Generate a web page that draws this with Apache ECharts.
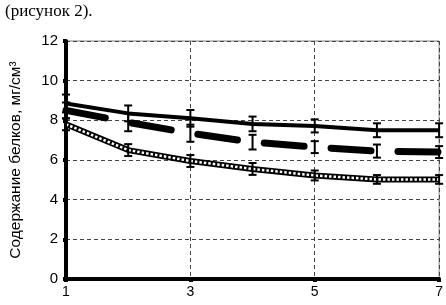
<!DOCTYPE html>
<html><head><meta charset="utf-8">
<script src="https://cdn.jsdelivr.net/npm/echarts@6/dist/echarts.min.js"></script>
<style>html,body{margin:0;padding:0;background:#fff;}#c{width:446px;height:305px;}</style>
</head><body><div id="c"></div>
<script>
var categories = ['1','2','3','4','5','6','7'];
var solidVals  = [8.85, 8.35, 8.1, 7.82, 7.72, 7.5, 7.5];
var solidErr   = [0.45, 0.4, 0.42, 0.37, 0.33, 0.35, 0.35];
var dashedVals = [8.5, 7.9, 7.35, 6.9, 6.65, 6.45, 6.4];
var dashedErr  = [0.4, 0.45, 0.43, 0.37, 0.3, 0.33, 0.3];
var dottedVals = [7.8, 6.5, 5.95, 5.55, 5.22, 5.02, 5.02];
var dottedErr  = [0.3, 0.3, 0.3, 0.3, 0.25, 0.22, 0.22];
var yTicks = [0, 2, 4, 6, 8, 10, 12];
var title = '(рисунок 2).';
var yName = 'Содержание белков, мг/см³';

function errData(vals, errs){
  return vals.map(function(v,i){ return [i, v - errs[i], v + errs[i]]; });
}
function errSeries(vals, errs){
  return {
    type:'custom', z:5, silent:true,
    data: errData(vals, errs),
    renderItem: function(params, api){
      var lo = api.coord([api.value(0), api.value(1)]);
      var hi = api.coord([api.value(0), api.value(2)]);
      var hw = 4;
      var st = {stroke:'#000', lineWidth:2};
      return {type:'group', children:[
        {type:'line', shape:{x1:lo[0],y1:lo[1],x2:hi[0],y2:hi[1]}, style:st},
        {type:'line', shape:{x1:lo[0]-hw,y1:lo[1],x2:lo[0]+hw,y2:lo[1]}, style:st},
        {type:'line', shape:{x1:hi[0]-hw,y1:hi[1],x2:hi[0]+hw,y2:hi[1]}, style:st}
      ]};
    }
  };
}

var chart = echarts.init(document.getElementById('c'), null, {renderer:'canvas'});
chart.setOption({
  animation:false,
  backgroundColor:'#fff',
  title:{text:title, left:0, top:-2, textStyle:{fontFamily:'Liberation Serif', fontSize:17, fontWeight:'normal', color:'#000'}},
  grid:{left:66, right:5, top:41, bottom:26, show:true, borderColor:'#808080', borderWidth:1},
  xAxis:{
    type:'category', data:categories, boundaryGap:false,
    axisLine:{show:true, lineStyle:{color:'#000', width:4}},
    axisTick:{show:true, interval:1, length:3, inside:false, lineStyle:{color:'#000', width:4}},
    axisLabel:{interval:1, color:'#000', fontFamily:'Liberation Sans', fontSize:14, margin:6},
    splitLine:{show:true, interval:1, lineStyle:{color:'#444', type:[4,3], width:1}}
  },
  yAxis:{
    type:'value', min:0, max:12, interval:2,
    name:yName, nameLocation:'middle', nameGap:42,
    nameTextStyle:{color:'#000', fontFamily:'Liberation Sans', fontSize:15.5},
    axisLine:{show:true, lineStyle:{color:'#000', width:4}},
    axisTick:{show:true, length:3, lineStyle:{color:'#000', width:4}},
    axisLabel:{color:'#000', fontFamily:'Liberation Sans', fontSize:15, margin:8,
      formatter:function(v){ return yTicks.indexOf(v) >= 0 ? String(v) : ''; }},
    splitLine:{show:true, lineStyle:{color:'#444', type:[4,3], width:1}}
  },
  series:[
    {type:'line', data:solidVals, symbol:'none', z:3, lineStyle:{color:'#000', width:4}},
    {type:'line', data:dashedVals, symbol:'none', z:3, lineStyle:{color:'#000', width:7, type:[40,27], cap:'round'}},
    {type:'line', data:dottedVals, symbol:'none', z:3, lineStyle:{color:'#000', width:6}},
    {type:'line', data:dottedVals, symbol:'none', z:4, lineStyle:{color:'#fff', width:2.5, type:[2.5,2]}},
    errSeries(solidVals, solidErr),
    errSeries(dashedVals, dashedErr),
    errSeries(dottedVals, dottedErr)
  ]
});
</script></body></html>
